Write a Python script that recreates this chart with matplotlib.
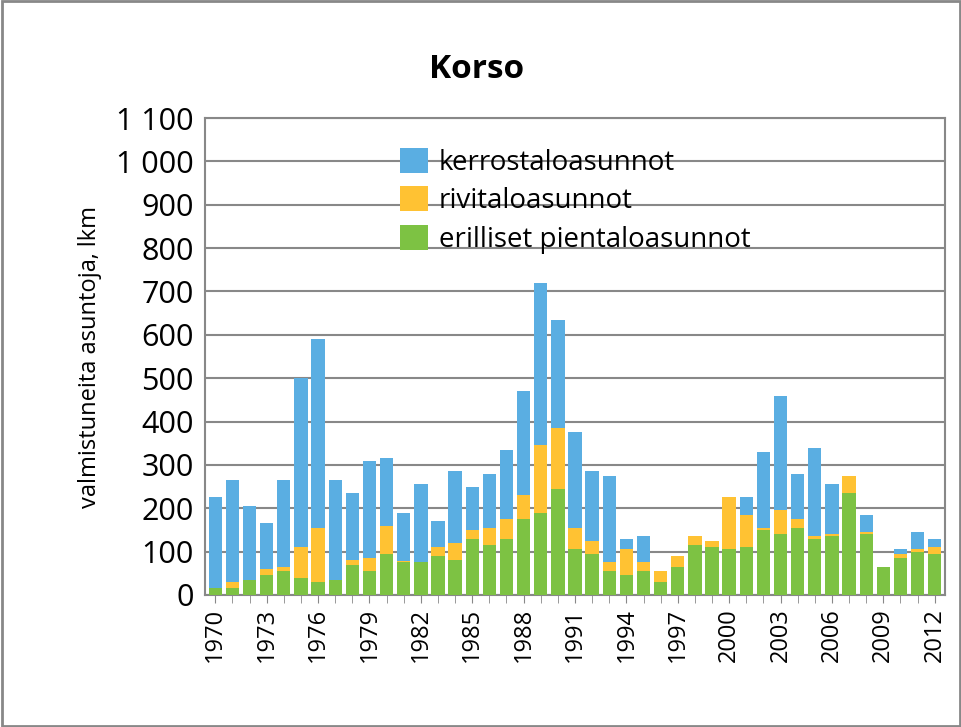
import matplotlib
matplotlib.use("Agg")
import matplotlib.pyplot as plt
import numpy as np

years = list(range(1970, 2013))
green = [15,15,35,45,55,40,30,35,70,55,95,75,75,90,80,130,115,130,175,190,245,105,95,55,45,55,30,65,115,110,105,110,150,140,155,130,135,235,140,65,85,100,95]
green_orange = [15,30,35,60,65,110,155,35,80,85,160,78,75,110,120,150,155,175,230,345,385,155,125,75,105,75,55,90,135,125,225,185,155,195,175,135,140,275,145,65,95,105,110]
total = [225,265,205,165,265,500,590,265,235,310,315,190,255,170,285,250,280,335,470,720,635,375,285,275,130,135,55,90,135,125,225,225,330,460,280,340,255,275,185,65,105,145,130]

g = np.array(green); o = np.array(green_orange) - g; b = np.array(total) - np.array(green_orange)

plt.rcParams['font.family'] = 'Open Sans'
fig = plt.figure(figsize=(9.62, 7.27), dpi=100)
fig.patches.append(matplotlib.patches.Rectangle((0.002,0.002),0.996,0.996,transform=fig.transFigure,fill=False,edgecolor='#888888',lw=2))
ax = fig.add_axes([205/962, 1-595/727, 740/962, 477/727])
x = np.arange(len(years))
w = 0.78
ax.bar(x, g, w, color='#7DC243', label='erilliset pientaloasunnot', zorder=3)
ax.bar(x, o, w, bottom=g, color='#FFC233', label='rivitaloasunnot', zorder=3)
ax.bar(x, b, w, bottom=g+o, color='#5AAEE2', label='kerrostaloasunnot', zorder=3)
ax.set_xlim(-0.6, len(years)-0.4)
ax.set_ylim(0, 1100)
yt = list(range(0, 1101, 100))
ax.set_yticks(yt)
ax.set_yticklabels([f"{v:,}".replace(",", " ") for v in yt], fontsize=22)
ax.set_xticks(x[::3])
ax.set_xticklabels([str(y) for y in years[::3]], rotation=90, fontsize=17)
ax.set_xticks(x, minor=True)
ax.tick_params(axis='x', which='both', length=6, color='#888888')
ax.tick_params(axis='y', length=0, pad=8)
ax.grid(axis='y', color='#888888', lw=1.5, zorder=0)
for s in ax.spines.values():
    s.set_color('#888888'); s.set_linewidth(1.5)
ax.set_ylabel('valmistuneita asuntoja, lkm', fontsize=17, labelpad=10)
fig.text(477/962, 1-70/727, 'Korso', fontsize=24, fontweight='bold', ha='center', va='center')
h, l = ax.get_legend_handles_labels()
ax.legend(h[::-1], l[::-1], loc='upper left', bbox_to_anchor=(0.23, 0.99), frameon=False, fontsize=20,
          handlelength=1.0, handleheight=1.0, labelspacing=0.35, handletextpad=0.4)
fig.savefig('out.png', dpi=100)
